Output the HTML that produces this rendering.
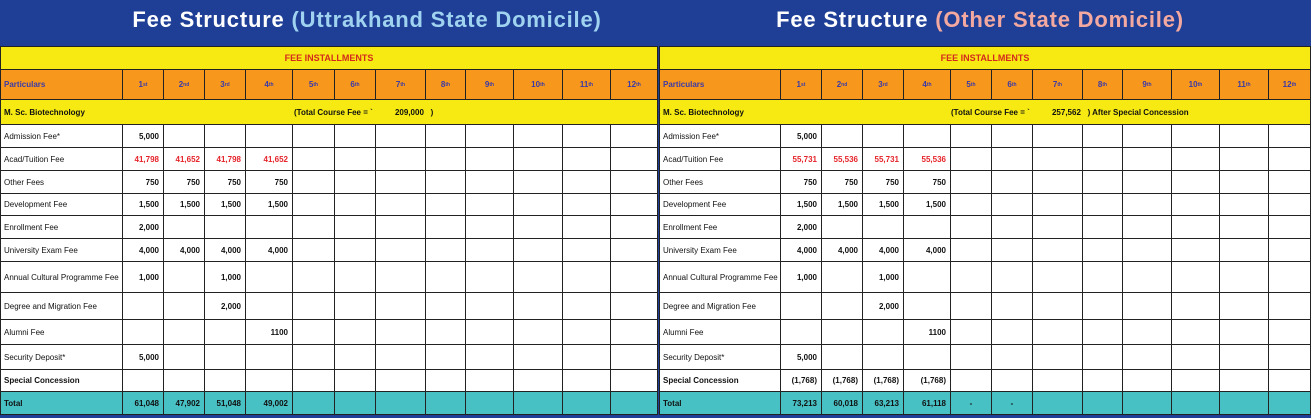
<!DOCTYPE html>
<html><head><meta charset="utf-8"><style>
html,body{margin:0;padding:0;width:1311px;height:418px;overflow:hidden;background:#1f3f96;font-family:"Liberation Sans",sans-serif}
.c{position:absolute;box-sizing:border-box;border-right:1px solid #222;border-bottom:1px solid #222;font-size:8px;color:#111;display:flex;align-items:center;overflow:hidden;white-space:nowrap}
.t{position:absolute;top:0;height:44px;line-height:40px;font-size:22px;font-weight:bold;color:#fff;text-align:center;letter-spacing:0.8px}
sup{font-size:5px;vertical-align:4px}
</style></head><body>
<div class="t" style="left:0;width:734px">Fee Structure <span style="color:#9fd3f0">(Uttrakhand State Domicile)</span></div>
<div class="t" style="left:659px;width:642px">Fee Structure <span style="color:#f4a9a0">(Other State Domicile)</span></div>
<script>
const particulars=["Admission Fee*","Acad/Tuition  Fee","Other Fees","Development Fee","Enrollment Fee","University Exam Fee","Annual Cultural Programme Fee","Degree and Migration Fee","Alumni Fee","Security Deposit*","Special Concession","Total"];
const leftValues=[["5,000"],["41,798","41,652","41,798","41,652"],["750","750","750","750"],["1,500","1,500","1,500","1,500"],["2,000"],["4,000","4,000","4,000","4,000"],["1,000","","1,000"],["","","2,000"],["","","","1100"],["5,000"],[],["61,048","47,902","51,048","49,002"]];
const rightValues=[["5,000"],["55,731","55,536","55,731","55,536"],["750","750","750","750"],["1,500","1,500","1,500","1,500"],["2,000"],["4,000","4,000","4,000","4,000"],["1,000","","1,000"],["","","2,000"],["","","","1100"],["5,000"],["(1,768)","(1,768)","(1,768)","(1,768)"],["73,213","60,018","63,213","61,118","-","-"]];
const ords=["1<sup>st</sup>","2<sup>nd</sup>","3<sup>rd</sup>","4<sup>th</sup>","5<sup>th</sup>","6<sup>th</sup>","7<sup>th</sup>","8<sup>th</sup>","9<sup>th</sup>","10<sup>th</sup>","11<sup>th</sup>","12<sup>th</sup>"];
const rowH=[23,23,23,22,23,23,31,27,25,25,22,23];
function cell(x,y,w,h,html,bg,style,name){
  const d=document.createElement('div');
  d.className='c';
  d.style.cssText=`left:${x}px;top:${y}px;width:${w}px;height:${h}px;background:${bg};`+(style||'');
  d.innerHTML=html;
  
  
  document.body.appendChild(d);
}
function build(x0,widths,values,prog,prefix){
  const total=widths.reduce((a,b)=>a+b,0);
  cell(x0,46,total,24,'FEE INSTALLMENTS','#f6ea12','justify-content:center;color:#d42a1e;font-weight:bold;font-size:9px;border-left:1px solid #222;border-top:1px solid #222',prefix+'-installments-header');
  let x=x0,y=70;
  widths.forEach((w,i)=>{
    cell(x,y,w,30,i==0?'Particulars':ords[i-1],'#f7981d','font-weight:bold;color:#3a3aa8;'+(i==0?'padding-left:3px;border-left:1px solid #222':'justify-content:center'),prefix+(i==0?'-particulars-header':'-installment-'+i+'-header'));
    x+=w;
  });
  cell(x0,100,total,25,'<span style="display:inline-block;width:'+prog[1]+'px;padding-left:3px">M. Sc. Biotechnology</span>'+prog[0],'#f6ea12','font-weight:bold;border-left:1px solid #222',prefix+'-program-row');
  y=125;
  particulars.forEach((p,r)=>{
    const h=rowH[r];const last=r==particulars.length-1;
    const bg=last?'#48c1c4':'#fff';
    x=x0;
    widths.forEach((w,i)=>{
      let html='',st='';
      if(i==0){html=p;st='padding-left:3px;border-left:1px solid #222;'+((r>=10)?'font-weight:bold;':'');}
      else{html=values[r][i-1]||'';st=(html=='-'?'justify-content:center;':'justify-content:flex-end;padding-right:4px;')+'font-weight:bold;'+(r==1?'color:#e5242a;':'');}
      cell(x,y,w,h,html,bg,st,prefix+'-row-'+(r+1)+'-col-'+i);
      x+=w;
    });
    y+=h;
  });
}
const leftW=[123,41,41,41,47,42,41,50,40,48,49,48,47];
const rightW=[122,41,41,41,47,41,41,50,40,49,48,49,42];
build(0,leftW,leftValues,['(Total Course Fee = `&nbsp;&nbsp;&nbsp;&nbsp;&nbsp;&nbsp;&nbsp;&nbsp;&nbsp;&nbsp;209,000&nbsp;&nbsp;&nbsp;)',290],'left');
build(659,rightW,rightValues,['(Total Course Fee = `&nbsp;&nbsp;&nbsp;&nbsp;&nbsp;&nbsp;&nbsp;&nbsp;&nbsp;&nbsp;257,562&nbsp;&nbsp;&nbsp;) After Special Concession',288],'right');
</script>
</body></html>
